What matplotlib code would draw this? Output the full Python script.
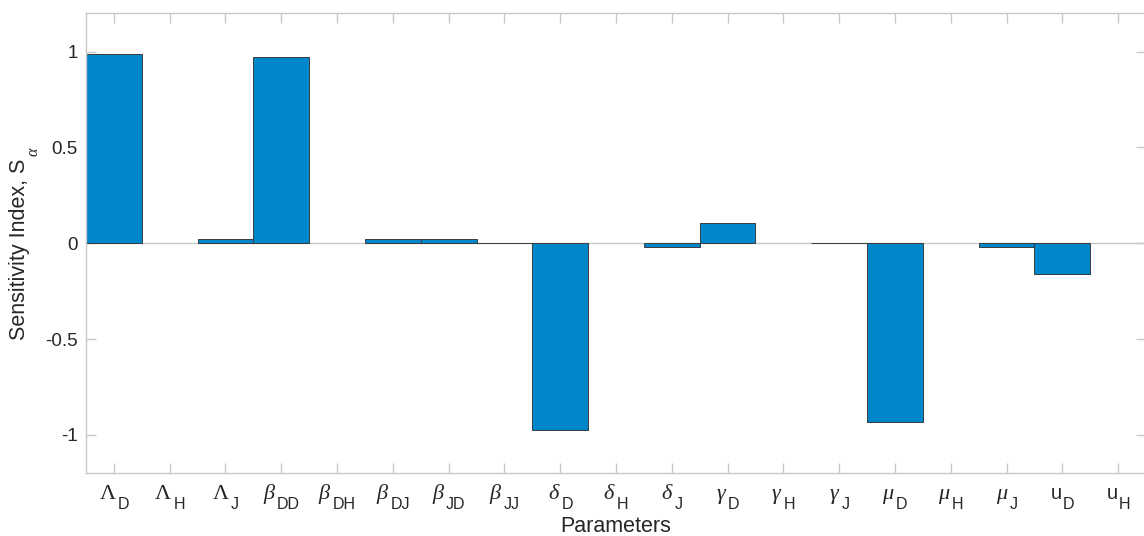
import matplotlib
matplotlib.use("Agg")
import matplotlib.pyplot as plt
from matplotlib.transforms import ScaledTranslation
import numpy as np

# parameter symbols (main symbol, subscript)
symbols = [r'$\Lambda$', r'$\Lambda$', r'$\Lambda$', r'$\beta$', r'$\beta$', r'$\beta$',
           r'$\beta$', r'$\beta$', r'$\delta$', r'$\delta$', r'$\delta$', r'$\gamma$',
           r'$\gamma$', r'$\gamma$', r'$\mu$', r'$\mu$', r'$\mu$', 'u', 'u']
subscripts = ['D', 'H', 'J', 'DD', 'DH', 'DJ', 'JD', 'JJ', 'D', 'H', 'J', 'D',
              'H', 'J', 'D', 'H', 'J', 'D', 'H']
values = [0.986, 0.0, 0.022, 0.970, 0.0, 0.021, 0.021, 0.002, -0.974,
          0.0, -0.021, 0.104, 0.0, 0.002, -0.932, 0.0, -0.021, -0.160, 0.0]
yticks = [-1, -0.5, 0, 0.5, 1]
ytick_labels = ['-1', '-0.5', '0', '0.5', '1']
xlabel = 'Parameters'
ylabel_main = 'Sensitivity Index, S'
ylabel_sub = r'$\alpha$'

plt.rcParams['font.family'] = ['Liberation Sans', 'DejaVu Sans']
plt.rcParams['mathtext.fontset'] = 'custom'
plt.rcParams['mathtext.rm'] = 'Liberation Serif'
plt.rcParams['mathtext.it'] = 'Liberation Serif:italic'
plt.rcParams['mathtext.bf'] = 'Liberation Serif:bold'
plt.rcParams['mathtext.sf'] = 'Liberation Sans'

W, H, DPI = 1144, 536, 100
TXT = '#262626'
fig = plt.figure(figsize=(W / DPI, H / DPI), dpi=DPI)
ax = fig.add_axes([86 / W, 1 - 473.3 / H, (1146 - 86) / W, (473.3 - 13.3) / H])

x = np.arange(1, len(values) + 1)
edges = ['#3a3a3a' if v != 0 else 'none' for v in values]
ax.axhline(0, color='#c8c8c8', lw=1.0, zorder=1)
ax.bar(x, values, width=1.0, color='#0087CB', edgecolor=edges, linewidth=0.7, zorder=2)

ax.set_xlim(0.5, len(values) + 0.5)
ax.set_ylim(-1.2, 1.2)
ax.set_xticks(x)
ax.set_xticklabels([])
ax.set_yticks(yticks)
ax.set_yticklabels(ytick_labels, fontsize=13.5)

spine_c = '#c8c8c8'
for s in ax.spines.values():
    s.set_color(spine_c)
    s.set_linewidth(1.0)
ax.tick_params(axis='both', direction='in', length=7, width=1.0, color=spine_c,
               labelcolor=TXT, top=True, right=True)
ax.tick_params(axis='y', pad=6)

fig.canvas.draw()
r = fig.canvas.get_renderer()

# composite tick labels: symbol + lowered subscript, centred on each tick
base = ax.get_xaxis_transform()
gap = 1.0
for xi, sym, sub in zip(x, symbols, subscripts):
    msize = 16 if sym.startswith('$') else 14.5
    t1 = ax.text(xi, 0, sym, transform=base, fontsize=msize, ha='left', va='baseline', color=TXT)
    t2 = ax.text(xi, 0, sub, transform=base, fontsize=11.5, ha='left', va='baseline', color=TXT)
    w1 = t1.get_window_extent(r).width
    w2 = t2.get_window_extent(r).width
    tot = w1 + gap + w2
    t1.set_transform(base + ScaledTranslation(-tot / 2 / DPI, -25.5 / DPI, fig.dpi_scale_trans))
    t2.set_transform(base + ScaledTranslation((-tot / 2 + w1 + gap) / DPI, -35.5 / DPI,
                                              fig.dpi_scale_trans))

# x label
fig.text(616 / W, 1 - 531.5 / H, xlabel, fontsize=15.5, ha='center', va='baseline', color=TXT)

# y label with lowered subscript alpha
yl = fig.text(25.5 / W, 1 - 340 / H, ylabel_main, fontsize=15.5, rotation=90,
              rotation_mode='anchor', ha='left', va='baseline', color=TXT)
fig.canvas.draw()
ext = yl.get_window_extent(r)
top_px = ext.y1  # display pixels from bottom
fig.text(38.5 / W, (top_px + 1.5) / H, ylabel_sub, fontsize=11.5, rotation=90,
         rotation_mode='anchor', ha='left', va='baseline', color=TXT)

fig.savefig('out.png', dpi=DPI)
